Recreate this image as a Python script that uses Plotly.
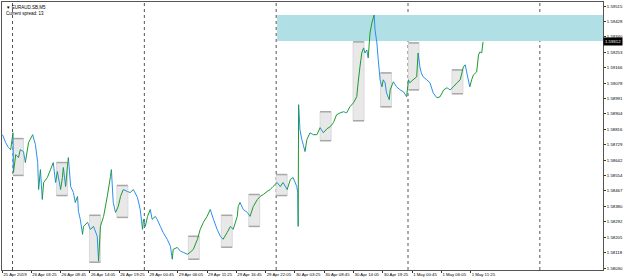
import plotly.graph_objects as go

# ---- price line (M5 close) ----
times = [
    "2019-04-25 22:10", "2019-04-25 22:45", "2019-04-25 23:15", "2019-04-25 23:40",
    "2019-04-26 00:05", "2019-04-26 00:10", "2019-04-26 00:35", "2019-04-26 01:05",
    "2019-04-26 01:25", "2019-04-26 02:00", "2019-04-26 02:20", "2019-04-26 02:55",
    "2019-04-26 03:40", "2019-04-26 04:10", "2019-04-26 04:35", "2019-04-26 04:45",
    "2019-04-26 05:05", "2019-04-26 05:25", "2019-04-26 05:40", "2019-04-26 06:20",
    "2019-04-26 06:55", "2019-04-26 07:25", "2019-04-26 07:50", "2019-04-26 08:10",
    "2019-04-26 08:45", "2019-04-26 09:05", "2019-04-26 09:15", "2019-04-26 09:40",
    "2019-04-26 10:00", "2019-04-26 10:10", "2019-04-26 10:35", "2019-04-26 11:05",
    "2019-04-26 11:25", "2019-04-26 11:50", "2019-04-26 12:00", "2019-04-26 12:20",
    "2019-04-26 12:45", "2019-04-26 12:55", "2019-04-26 13:40", "2019-04-26 14:10",
    "2019-04-26 14:45", "2019-04-26 15:25", "2019-04-26 15:40", "2019-04-26 16:00",
    "2019-04-26 16:35", "2019-04-26 17:15", "2019-04-26 17:50", "2019-04-26 18:00",
    "2019-04-26 18:20", "2019-04-26 18:45", "2019-04-26 19:15", "2019-04-26 19:40",
    "2019-04-26 20:10", "2019-04-26 20:55", "2019-04-26 21:25", "2019-04-26 22:00",
    "2019-04-26 22:45", "2019-04-26 23:15", "2019-04-26 23:40", "2019-04-26 23:50",
    "2019-04-29 00:10", "2019-04-29 00:35", "2019-04-29 01:05", "2019-04-29 01:25",
    "2019-04-29 02:00", "2019-04-29 02:20", "2019-04-29 02:55", "2019-04-29 03:25",
    "2019-04-29 04:10", "2019-04-29 04:45", "2019-04-29 05:05", "2019-04-29 05:15",
    "2019-04-29 06:00", "2019-04-29 06:35", "2019-04-29 07:05", "2019-04-29 07:50",
    "2019-04-29 08:20", "2019-04-29 08:55", "2019-04-29 09:40", "2019-04-29 10:10",
    "2019-04-29 10:45", "2019-04-29 11:25", "2019-04-29 12:00", "2019-04-29 12:35",
    "2019-04-29 13:15", "2019-04-29 13:50", "2019-04-29 14:20", "2019-04-29 15:05",
    "2019-04-29 15:40", "2019-04-29 16:10", "2019-04-29 16:55", "2019-04-29 17:05",
    "2019-04-29 17:25", "2019-04-29 18:00", "2019-04-29 18:45", "2019-04-29 19:15",
    "2019-04-29 19:50", "2019-04-29 20:35", "2019-04-29 21:05", "2019-04-29 21:40",
    "2019-04-29 22:20", "2019-04-29 22:55", "2019-04-29 23:25",
    "2019-04-30 00:10", "2019-04-30 00:45", "2019-04-30 01:15", "2019-04-30 02:00",
    "2019-04-30 02:35", "2019-04-30 03:05", "2019-04-30 03:45", "2019-04-30 03:55",
    "2019-04-30 04:00", "2019-04-30 04:05", "2019-04-30 04:20", "2019-04-30 04:40",
    "2019-04-30 04:55", "2019-04-30 05:15", "2019-04-30 05:35", "2019-04-30 06:10",
    "2019-04-30 06:45", "2019-04-30 07:25", "2019-04-30 08:00", "2019-04-30 08:35",
    "2019-04-30 09:15", "2019-04-30 09:50", "2019-04-30 10:25", "2019-04-30 11:00",
    "2019-04-30 11:40", "2019-04-30 12:15", "2019-04-30 12:50", "2019-04-30 13:25",
    "2019-04-30 14:05", "2019-04-30 14:40", "2019-04-30 14:55", "2019-04-30 15:15",
    "2019-04-30 15:35", "2019-04-30 15:55", "2019-04-30 16:10", "2019-04-30 16:30",
    "2019-04-30 16:45", "2019-04-30 17:05", "2019-04-30 17:25", "2019-04-30 17:50",
    "2019-04-30 18:00", "2019-04-30 18:20", "2019-04-30 18:35", "2019-04-30 18:55",
    "2019-04-30 19:15", "2019-04-30 19:30", "2019-04-30 19:50", "2019-04-30 20:05",
    "2019-04-30 20:35", "2019-04-30 20:45", "2019-04-30 21:20", "2019-04-30 21:55",
    "2019-04-30 22:35", "2019-04-30 23:10", "2019-04-30 23:45",
    "2019-05-01 00:05", "2019-05-01 00:20", "2019-05-01 00:55", "2019-05-01 01:35",
    "2019-05-01 01:50", "2019-05-01 02:10", "2019-05-01 02:25", "2019-05-01 02:45",
    "2019-05-01 03:25", "2019-05-01 04:00", "2019-05-01 04:35", "2019-05-01 05:15",
    "2019-05-01 05:50", "2019-05-01 06:30", "2019-05-01 07:05", "2019-05-01 07:40",
    "2019-05-01 08:15", "2019-05-01 08:55", "2019-05-01 09:30", "2019-05-01 10:05",
    "2019-05-01 10:25", "2019-05-01 10:40", "2019-05-01 11:15", "2019-05-01 11:35",
    "2019-05-01 11:55", "2019-05-01 12:30", "2019-05-01 12:50", "2019-05-01 13:05",
    "2019-05-01 13:25", "2019-05-01 13:40",
]
prices = [
    1.58786, 1.58741, 1.58713, 1.58701,
    1.58797, 1.58571, 1.58673, 1.58656,
    1.58701, 1.58690, 1.58628, 1.58741,
    1.58786, 1.58730, 1.58628, 1.58475,
    1.58588, 1.58419, 1.58515, 1.58543,
    1.58588, 1.58628, 1.58515, 1.58577,
    1.58475, 1.58543, 1.58600, 1.58492,
    1.58606, 1.58656, 1.58492, 1.58458,
    1.58402, 1.58436, 1.58351, 1.58306,
    1.58221, 1.58266, 1.58289, 1.58249,
    1.58266, 1.58210, 1.58069, 1.58266,
    1.58323, 1.58436, 1.58549, 1.58588,
    1.58402, 1.58345, 1.58379, 1.58436,
    1.58475, 1.58464, 1.58458, 1.58475,
    1.58430, 1.58362, 1.58249, 1.58306,
    1.58266, 1.58323, 1.58362, 1.58306,
    1.58323, 1.58306, 1.58266, 1.58232,
    1.58193, 1.58153, 1.58080, 1.58136,
    1.58147, 1.58125, 1.58119, 1.58108,
    1.58119, 1.58136, 1.58193, 1.58249,
    1.58289, 1.58323, 1.58362, 1.58306,
    1.58249, 1.58210, 1.58193, 1.58232,
    1.58266, 1.58249, 1.58323, 1.58379,
    1.58402, 1.58362, 1.58345, 1.58323,
    1.58379, 1.58419, 1.58436, 1.58447,
    1.58464, 1.58475, 1.58492,
    1.58515, 1.58492, 1.58515, 1.58475,
    1.58532, 1.58543, 1.58492, 1.58458,
    1.58266, 1.58956, 1.58814, 1.58758,
    1.58730, 1.58690, 1.58758, 1.58797,
    1.58786, 1.58786, 1.58826, 1.58797,
    1.58820, 1.58831, 1.58854, 1.58899,
    1.58910, 1.58916, 1.58910, 1.58944,
    1.58967, 1.59001, 1.59080, 1.59170,
    1.59249, 1.59278, 1.59249, 1.59266,
    1.59221, 1.59362, 1.59419, 1.59464,
    1.59379, 1.59306, 1.59210, 1.59097,
    1.59057, 1.59097, 1.59080, 1.59023,
    1.58984, 1.59040, 1.59086, 1.59057,
    1.59040, 1.59029, 1.59001,
    1.59097, 1.59080, 1.59097, 1.59114,
    1.59249, 1.59170, 1.59136, 1.59114,
    1.59097, 1.59080, 1.59023, 1.58995,
    1.59001, 1.59040, 1.59052, 1.59040,
    1.59057, 1.59080, 1.59097, 1.59170,
    1.59182, 1.59142, 1.59057, 1.59097,
    1.59125, 1.59142, 1.59238, 1.59255,
    1.59249, 1.59312,
]

# ---- grey session boxes ----
box_start = ["2019-04-26 00:05", "2019-04-26 08:00", "2019-04-26 14:00", "2019-04-26 19:00",
             "2019-04-29 08:00", "2019-04-29 14:00", "2019-04-29 19:00", "2019-04-30 00:00",
             "2019-04-30 08:00", "2019-04-30 14:00", "2019-04-30 19:00", "2019-05-01 00:05",
             "2019-05-01 08:00"]
box_end = ["2019-04-26 02:00", "2019-04-26 10:00", "2019-04-26 16:00", "2019-04-26 21:00",
           "2019-04-29 10:00", "2019-04-29 16:00", "2019-04-29 21:00", "2019-04-30 02:00",
           "2019-04-30 10:00", "2019-04-30 16:00", "2019-04-30 21:00", "2019-05-01 02:00",
           "2019-05-01 10:00"]
box_high = [1.58764, 1.58628, 1.58329, 1.58498, 1.58210, 1.58329, 1.58447, 1.58560,
            1.58916, 1.59312, 1.59136, 1.59306, 1.59153]
box_low = [1.58555, 1.58441, 1.58063, 1.58317, 1.58080, 1.58148, 1.58266, 1.58441,
           1.58752, 1.58865, 1.58944, 1.59040, 1.59018]

# ---- light blue zone ----
zone_start = "2019-04-30 00:10"
zone_high = 1.59464
zone_low = 1.59317

separators = ["2019-04-26 00:00", "2019-04-29 00:00", "2019-04-30 00:00",
              "2019-05-01 00:00", "2019-05-02 00:00"]

price_ticks = [1.59515, 1.59428, 1.59340, 1.59253, 1.59166, 1.59078, 1.58991, 1.58904,
               1.58816, 1.58729, 1.58642, 1.58554, 1.58467, 1.58380, 1.58292, 1.58205,
               1.58118, 1.58030]
time_ticks = ["2019-04-25 22:10", "2019-04-26 03:25", "2019-04-26 08:45", "2019-04-26 14:05",
              "2019-04-26 19:25", "2019-04-29 00:45", "2019-04-29 06:05", "2019-04-29 11:25",
              "2019-04-29 16:45", "2019-04-29 22:05", "2019-04-30 03:25", "2019-04-30 08:45",
              "2019-04-30 14:05", "2019-04-30 19:25", "2019-05-01 00:45", "2019-05-01 06:05",
              "2019-05-01 11:25"]
time_labels = ["25 Apr 2019", "26 Apr 03:25", "26 Apr 08:45", "26 Apr 14:05", "26 Apr 19:25",
               "29 Apr 00:45", "29 Apr 06:05", "29 Apr 11:25", "29 Apr 16:45", "29 Apr 22:05",
               "30 Apr 03:25", "30 Apr 08:45", "30 Apr 14:05", "30 Apr 19:25", "1 May 00:45",
               "1 May 06:05", "1 May 11:25"]
current_price = 1.59312
x_range = ["2019-04-25 22:05", "2019-05-02 11:30"]
y_range = [1.58019, 1.59538]

# split line into up (green) / down (blue) segments
gx, gy, bx, by = [], [], [], []
for i in range(len(prices) - 1):
    if prices[i + 1] >= prices[i]:
        gx += [times[i], times[i + 1], None]
        gy += [prices[i], prices[i + 1], None]
    else:
        bx += [times[i], times[i + 1], None]
        by += [prices[i], prices[i + 1], None]

fig = go.Figure()
fig.add_trace(go.Scatter(x=bx, y=by, mode="lines", line=dict(color="#2b8ff0", width=1),
                         hoverinfo="skip", showlegend=False))
fig.add_trace(go.Scatter(x=gx, y=gy, mode="lines", line=dict(color="#1c9a2c", width=1),
                         hoverinfo="skip", showlegend=False))

shapes = []
shapes.append(dict(type="rect", xref="x", yref="y", x0=zone_start, x1=x_range[1],
                   y0=zone_low, y1=zone_high, fillcolor="#B0E0E6", line=dict(width=0),
                   layer="below"))
for s, e, h, l in zip(box_start, box_end, box_high, box_low):
    shapes.append(dict(type="rect", xref="x", yref="y", x0=s, x1=e, y0=l, y1=h,
                       fillcolor="#E8E8E8", line=dict(color="#DADADA", width=1), layer="below"))
    for v in (h, l):
        shapes.append(dict(type="line", xref="x", yref="y", x0=s, x1=e, y0=v, y1=v,
                           line=dict(color="#A8A8A8", width=1.5), layer="below"))
for d in separators:
    shapes.append(dict(type="line", xref="x", yref="paper", x0=d, x1=d, y0=0, y1=1,
                       line=dict(color="#555555", width=1, dash="dot"), layer="below"))

fig.update_layout(
    width=625, height=280,
    margin=dict(l=2, r=22, t=2, b=10),
    paper_bgcolor="white", plot_bgcolor="white",
    shapes=shapes,
    font=dict(family="Liberation Sans", size=4.3, color="black"),
    xaxis=dict(type="date", range=x_range, rangebreaks=[dict(bounds=["sat", "mon"])],
               tickmode="array", tickvals=time_ticks, ticktext=time_labels,
               ticks="outside", ticklen=2, tickcolor="#333", tickwidth=1,
               ticklabelposition="outside right",
               showgrid=False, zeroline=False, showline=True, linecolor="#555",
               linewidth=1, mirror=True, tickfont=dict(size=4.3), tickangle=0),
    yaxis=dict(side="right", range=y_range, tickmode="array", tickvals=price_ticks,
               ticktext=[f"{v:.5f}" for v in price_ticks],
               ticks="outside", ticklen=2, tickcolor="#333", tickwidth=1,
               showgrid=False, zeroline=False, showline=True, linecolor="#555",
               linewidth=1, mirror=True, tickfont=dict(size=4.3)),
    annotations=[
        dict(xref="paper", yref="y", x=1, y=current_price, xanchor="left", yanchor="middle",
             text=f"{current_price:.5f}", showarrow=False, bgcolor="black",
             font=dict(color="white", size=4.3), borderpad=1),
        dict(xref="paper", yref="paper", x=0.004, y=0.995, xanchor="left", yanchor="top",
             text="▼ EURAUD.SB,M5<br>Current spread: 13", showarrow=False, align="left",
             font=dict(size=4.5, color="black")),
    ],
)

fig.write_html("out.html")
